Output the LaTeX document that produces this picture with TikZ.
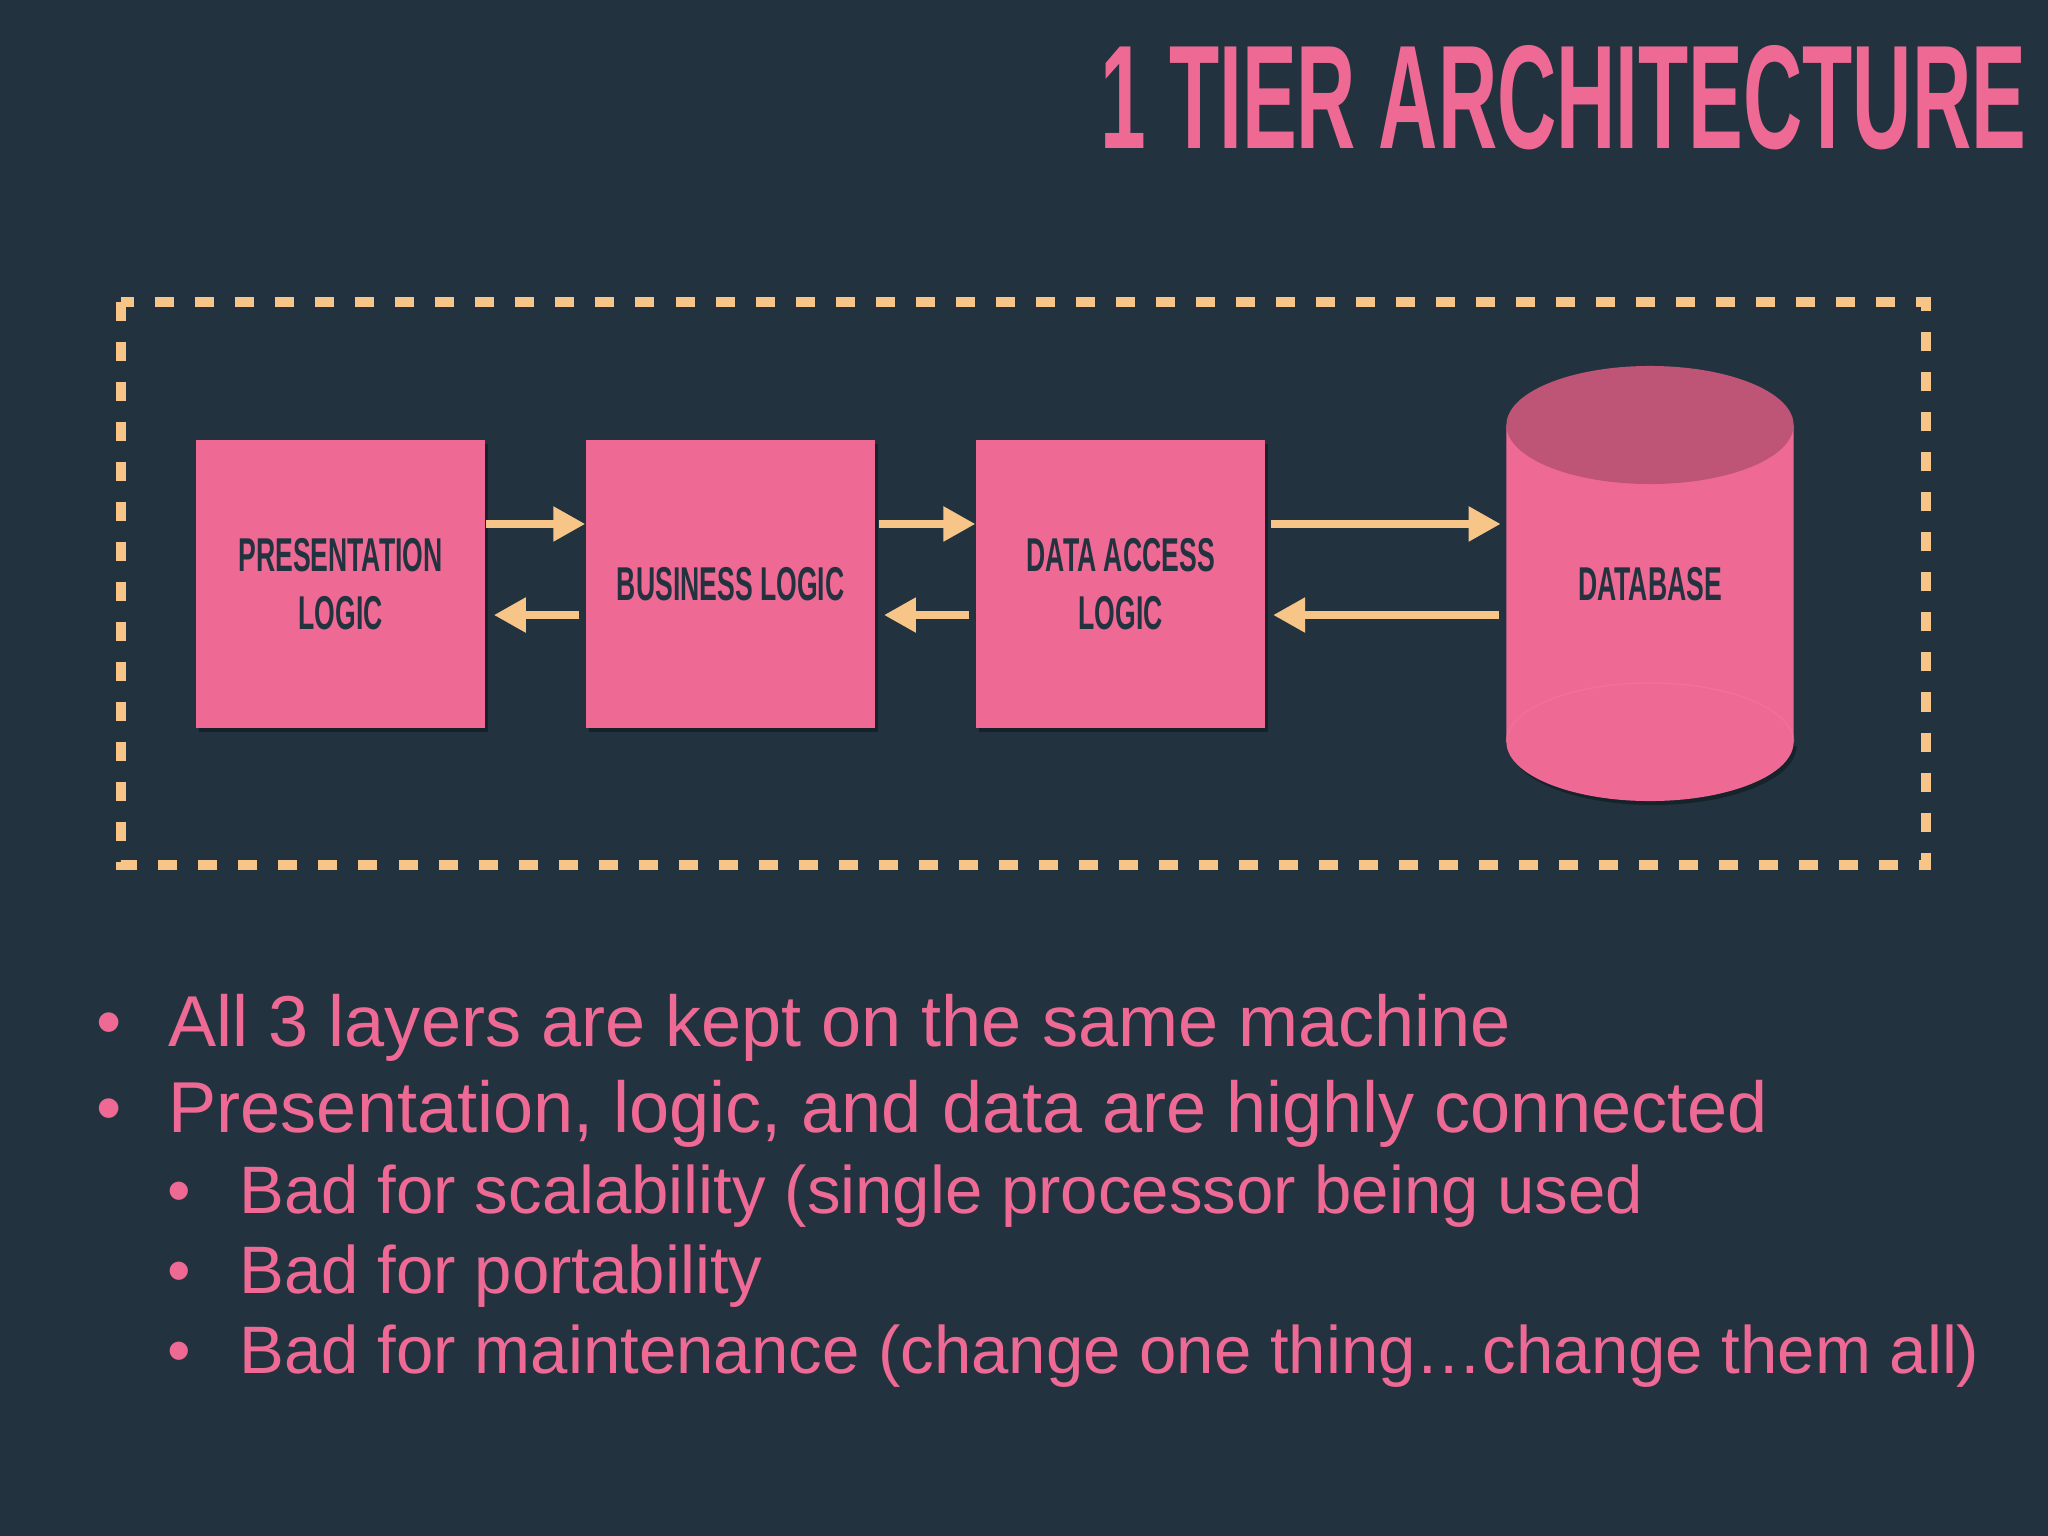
\documentclass[tikz,border=0pt]{standalone}
\usepackage{fontspec}
\setmainfont{Liberation Sans}
\usepackage{graphicx}
\usepackage{xcolor}
\usetikzlibrary{positioning, arrows.meta, shadows}
\definecolor{slate}{HTML}{22333F}
\definecolor{rose}{HTML}{EE6A94}
\definecolor{rosedark}{HTML}{BE5576}
\definecolor{roselight}{HTML}{F27A9F}
\definecolor{peach}{HTML}{F8C588}
\newcommand{\narrowcaps}[1]{\scalebox{0.56}[1]{#1}}

\begin{document}
\begin{tikzpicture}[
        x=0.01cm, y=-0.01cm,
        node distance = 0.995cm,
        layerbox/.style = {fill=rose, minimum width=2.89cm, minimum height=2.88cm,
            inner sep=0pt, align=center, text=slate,
            font=\fontsize{13.5}{16.5}\selectfont\bfseries,
            drop shadow={shadow xshift=0.03cm, shadow yshift=-0.04cm, fill=black, opacity=0.35}},
        flow/.style = {draw=peach, line width=0.085cm, -{Triangle[length=0.32cm, width=0.33cm]}},
        frameline/.style = {draw=peach, line width=0.1cm, dash pattern=on 0.19cm off 0.21cm},
        pointtext/.style = {anchor=base west, inner sep=0pt, text=rose, font=\fontsize{20.5}{24}\selectfont},
        subtext/.style = {pointtext, font=\fontsize{19.1}{23}\selectfont},
        bulletmark/.style = {anchor=base, inner sep=0pt, text=rose}]
        % BACKGROUND
        \fill[slate] (0,0) rectangle (2048,1536);
        \useasboundingbox (0,0) rectangle (2048,1536);
        % title
        \node[anchor=base east, inner sep=0pt, text=rose] (title) at (2027,148)
            {\resizebox{9.25cm}{1.03cm}{\bfseries 1 TIER ARCHITECTURE}};
        % dashed frame
        \draw[frameline] (121,302) rectangle (1926,865);

        % NODES
        % layer boxes
        \node[layerbox] (pres) at (340.5,584) {\narrowcaps{PRESENTATION}\\\narrowcaps{LOGIC}};
        \node[layerbox, right=of pres] (bus) {\narrowcaps{BUSINESS LOGIC}};
        \node[layerbox, right=of bus] (dal) {\narrowcaps{DATA ACCESS}\\\narrowcaps{LOGIC}};
        % database cylinder
        \coordinate (dbtop) at (1650,425);
        \coordinate (dbbot) at (1650,742);
        \fill[black, opacity=0.3] ([xshift=-1.405cm, yshift=-0.04cm]dbbot)
            arc[start angle=180, end angle=360, x radius=1.435cm, y radius=0.59cm] -- cycle;
        \fill[rose] ([xshift=-1.435cm]dbtop) -- ([xshift=-1.435cm]dbbot)
            arc[start angle=180, end angle=360, x radius=1.435cm, y radius=0.59cm]
            -- ([xshift=1.435cm]dbtop) -- cycle;
        \draw[roselight, opacity=0.5] ([xshift=-1.435cm]dbbot)
            arc[start angle=180, end angle=0, x radius=1.435cm, y radius=0.59cm];
        \fill[rosedark] (dbtop) ellipse[x radius=1.435cm, y radius=0.59cm];
        \node[minimum width=2.87cm, minimum height=4.36cm, inner sep=0pt, text=slate,
            font=\fontsize{13.5}{16.5}\selectfont\bfseries] (db) at (1650,584) {\narrowcaps{DATABASE}};

        % ARROWS
        \draw[flow] ([yshift=6mm]pres.east) -- ([yshift=6mm]bus.west);
        \draw[flow] ([yshift=-3.1mm, xshift=-0.06cm]bus.west) -- ([yshift=-3.1mm, xshift=0.08cm]pres.east);
        \draw[flow] ([yshift=6mm, xshift=0.03cm]bus.east) -- ([yshift=6mm]dal.west);
        \draw[flow] ([yshift=-3.1mm, xshift=-0.06cm]dal.west) -- ([yshift=-3.1mm, xshift=0.08cm]bus.east);
        \draw[flow] ([yshift=6mm, xshift=0.05cm]dal.east) -- ([yshift=6mm, xshift=-0.05cm]db.west);
        \draw[flow] ([yshift=-3.1mm, xshift=-0.07cm]db.west) -- ([yshift=-3.1mm, xshift=0.07cm]dal.east);

        % BULLETS
        \node[bulletmark, font=\fontsize{20.5}{24}\selectfont] (b1) at (109,1046) {\textbullet};
        \node[pointtext] (p1) at (168,1046) {All 3 layers are kept on the same machine};
        \node[bulletmark, font=\fontsize{20.5}{24}\selectfont] (b2) at (109,1132) {\textbullet};
        \node[pointtext] (p2) at (168,1132) {Presentation, logic, and data are highly connected};
        \node[bulletmark, font=\fontsize{19.1}{23}\selectfont] (b3) at (179,1213) {\textbullet};
        \node[subtext] (p3) at (239,1213) {Bad for scalability (single processor being used};
        \node[bulletmark, font=\fontsize{19.1}{23}\selectfont] (b4) at (179,1293) {\textbullet};
        \node[subtext] (p4) at (239,1293) {Bad for portability};
        \node[bulletmark, font=\fontsize{19.1}{23}\selectfont] (b5) at (179,1373) {\textbullet};
        \node[subtext] (p5) at (239,1373) {Bad for maintenance (change one thing\ldots change them all)};
    \end{tikzpicture}
\end{document}
